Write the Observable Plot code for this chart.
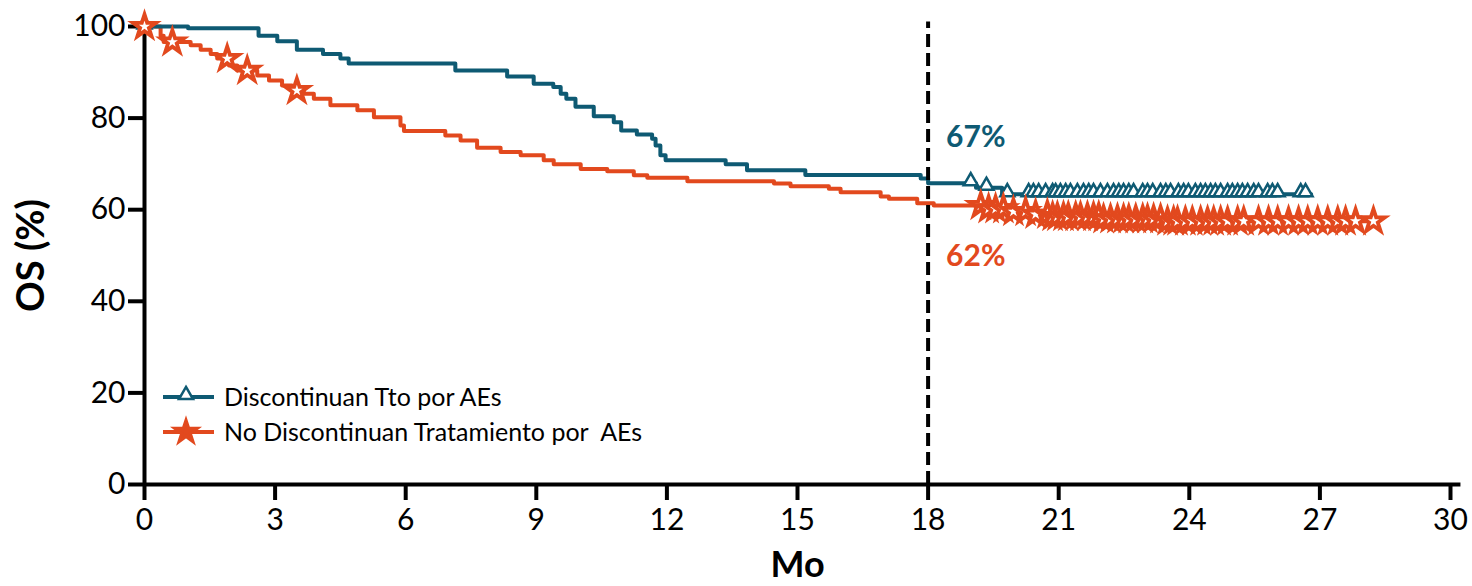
<!DOCTYPE html>
<html><head><meta charset="utf-8">
<script src="https://cdn.jsdelivr.net/npm/d3@7"></script>
<script src="https://cdn.jsdelivr.net/npm/@observablehq/plot@0.6"></script>
<style>
body{margin:0;background:#fff;font-family:Lato,sans-serif}
#wrap{position:relative;width:1472px;height:586px}
#legend{position:absolute;left:0;top:0;pointer-events:none}
</style>
</head><body><div id="wrap"></div>
<script>
// ---- data ----
const seriesNames = ["Discontinuan Tto por AEs", "No Discontinuan Tratamiento por  AEs"];

const tealTime = [0, 1.0, 2.62, 3.05, 3.5, 4.1, 4.5, 4.69, 7.14, 8.33, 8.94, 9.39, 9.56, 9.69, 9.90, 10.32, 10.78, 10.95, 11.31, 11.66, 11.74, 11.85, 11.97, 13.35, 13.84, 15.18, 17.83, 18.0, 19.1, 19.7, 26.8];
const tealSurv = [100, 99.6, 98.0, 96.8, 94.9, 94.0, 93.0, 91.9, 90.4, 89.1, 87.5, 86.8, 85.3, 84.2, 82.5, 80.4, 79.1, 77.3, 76.4, 75.5, 74.0, 71.9, 70.8, 69.9, 68.6, 67.6, 66.8, 65.8, 64.8, 63.4, 63.4];
const tealCensor = [0, 18.98, 19.34, 19.82, 20.31, 20.42, 20.54, 20.70, 20.86, 20.93, 21.04, 21.16, 21.27, 21.43, 21.57, 21.69, 21.80, 21.96, 22.12, 22.26, 22.38, 22.49, 22.61, 22.72, 22.93, 23.04, 23.16, 23.34, 23.46, 23.57, 23.75, 23.87, 23.98, 24.14, 24.26, 24.37, 24.49, 24.60, 24.72, 24.88, 24.99, 25.11, 25.22, 25.34, 25.48, 25.59, 25.80, 25.91, 26.03, 26.56, 26.67];

const orangeTime = [0, 0.37, 0.44, 1.06, 1.29, 1.52, 1.67, 1.94, 2.13, 2.59, 2.86, 3.16, 3.39, 3.66, 3.89, 4.27, 4.89, 5.27, 5.88, 5.96, 6.91, 7.26, 7.64, 8.18, 8.64, 9.17, 9.40, 10.02, 10.63, 11.24, 11.55, 12.47, 14.46, 14.84, 15.72, 15.99, 16.91, 17.10, 17.75, 18.13, 19.3, 19.8, 20.3, 20.8, 22.0, 23.4, 28.23];
const orangeSurv = [100, 98.0, 96.6, 95.9, 94.9, 94.0, 93.0, 91.5, 90.4, 89.3, 88.2, 87.1, 86.0, 85.3, 84.2, 82.8, 81.7, 80.2, 78.4, 77.2, 76.2, 75.1, 73.5, 72.6, 71.9, 70.8, 69.9, 68.9, 68.4, 67.5, 67.0, 66.2, 65.7, 65.1, 64.6, 63.8, 62.9, 62.4, 61.4, 60.9, 60.2, 59.6, 59.0, 58.5, 58.0, 57.5, 57.5];
const orangeCensor = [0, 0.64, 1.9, 2.36, 3.5, 19.21, 19.39, 19.55, 19.73, 19.96, 20.24, 20.47, 20.74, 20.86, 20.97, 21.11, 21.22, 21.39, 21.50, 21.66, 21.80, 21.92, 22.03, 22.19, 22.35, 22.49, 22.61, 22.77, 22.93, 23.04, 23.18, 23.34, 23.50, 23.64, 23.73, 23.91, 24.07, 24.26, 24.42, 24.56, 24.72, 24.88, 25.11, 25.25, 25.59, 25.82, 26.03, 26.28, 26.51, 26.72, 26.95, 27.18, 27.41, 27.59, 27.82, 28.23];

const xTicks = [0, 3, 6, 9, 12, 15, 18, 21, 24, 27, 30];
const yTicks = [0, 20, 40, 60, 80, 100];
const landmark = 18;
const landmarkLabels = ["67%", "62%"];
const xLabel = "Mo";
const yLabel = "OS (%)";

// ---- build ----
const TEAL = "#0e5a73", ORANGE = "#e2491e";
const toRows = (T, S, g) => T.map((t, i) => ({month: t, os: S[i], group: g}));
const survAt = (T, S, t) => S[Math.max(0, d3.bisectRight(T, t) - 1)];
const censRows = (C, T, S, g) => C.map(t => ({month: t, os: survAt(T, S, t), group: g}));

const tealLine = toRows(tealTime, tealSurv, seriesNames[0]);
const orangeLine = toRows(orangeTime, orangeSurv, seriesNames[1]);
const tealCens = censRows(tealCensor, tealTime, tealSurv, seriesNames[0]);
const orangeCens = censRows(orangeCensor, orangeTime, orangeSurv, seriesNames[1]);

const plot = Plot.plot({
  width: 1472, height: 586,
  marginLeft: 144, marginRight: 22, marginTop: 26, marginBottom: 102,
  style: {fontFamily: "Lato, sans-serif", color: "black", background: "white", overflow: "visible"},
  x: {domain: [0, 30]},
  y: {domain: [0, 100]},
  marks: [
    Plot.axisY({ticks: yTicks, tickSize: 16, strokeWidth: 4, tickPadding: 3, fontSize: 30, label: null}),
    Plot.axisX({ticks: xTicks, tickSize: 16, strokeWidth: 4, tickPadding: 8, fontSize: 30, label: null}),
    Plot.ruleX([0], {y1: 0, y2: 100, stroke: "black", strokeWidth: 4}),
    Plot.ruleY([0], {x1: 0, x2: 30.24, stroke: "black", strokeWidth: 4}),
    Plot.line(orangeLine, {x: "month", y: "os", curve: "step-after", stroke: ORANGE, strokeWidth: 4}),
    Plot.line(tealLine, {x: "month", y: "os", curve: "step-after", stroke: TEAL, strokeWidth: 4}),
    Plot.dot(tealCens, {x: "month", y: "os", symbol: "triangle", r: 5.2, stroke: TEAL, strokeWidth: 2.5, fill: "white", dy: -2}),
    Plot.dot(orangeCens, {x: "month", y: "os", symbol: "star", r: 7.2, stroke: ORANGE, strokeWidth: 3.8, fill: "white"}),
    Plot.ruleX([landmark], {y1: 0, y2: 101, stroke: "black", strokeWidth: 4, strokeDasharray: "13,6"}),
    Plot.text([landmarkLabels[0]], {x: landmark, y: survAt(tealTime, tealSurv, landmark), dx: 18, dy: -46, textAnchor: "start", fill: TEAL, fontSize: 30, fontWeight: "bold"}),
    Plot.text([landmarkLabels[1]], {x: landmark, y: survAt(orangeTime, orangeSurv, landmark), dx: 18, dy: 53, textAnchor: "start", fill: ORANGE, fontSize: 30, fontWeight: "bold"}),
    Plot.text([yLabel], {frameAnchor: "left", textAnchor: "middle", lineAnchor: "middle", rotate: -90, dx: -113, fontSize: 38, fontWeight: "bold", fill: "black"}),
    Plot.text([xLabel], {frameAnchor: "bottom", textAnchor: "middle", lineAnchor: "middle", dy: 81, fontSize: 36, fontWeight: "bold", fill: "black"})
  ]
});

const wrap = document.getElementById("wrap");
wrap.appendChild(plot);

// ---- legend (inside plot area) ----
const lg = d3.select(wrap).append("svg").attr("id", "legend").attr("width", 1472).attr("height", 586);
const items = [
  {name: seriesNames[0], color: TEAL, sym: d3.symbolTriangle, size: 85, sw: 2.5, fill: "white", y: 397, dy: -2},
  {name: seriesNames[1], color: ORANGE, sym: d3.symbolStar, size: 162, sw: 3, fill: ORANGE, y: 432, dy: 0}
];
items.forEach(it => {
  const g = lg.append("g");
  g.append("line").attr("x1", 163).attr("x2", 214).attr("y1", it.y).attr("y2", it.y).attr("stroke", it.color).attr("stroke-width", 4);
  g.append("path").attr("d", d3.symbol(it.sym, it.size)()).attr("transform", `translate(186,${it.y + it.dy})`)
    .attr("fill", it.fill).attr("stroke", it.color).attr("stroke-width", it.sw);
  g.append("text").attr("x", 224).attr("y", it.y).attr("dy", "0.35em").attr("font-size", 25)
    .attr("font-family", "Lato, sans-serif").style("white-space", "pre").attr("fill", "black").text(it.name);
});
</script>
</body></html>
